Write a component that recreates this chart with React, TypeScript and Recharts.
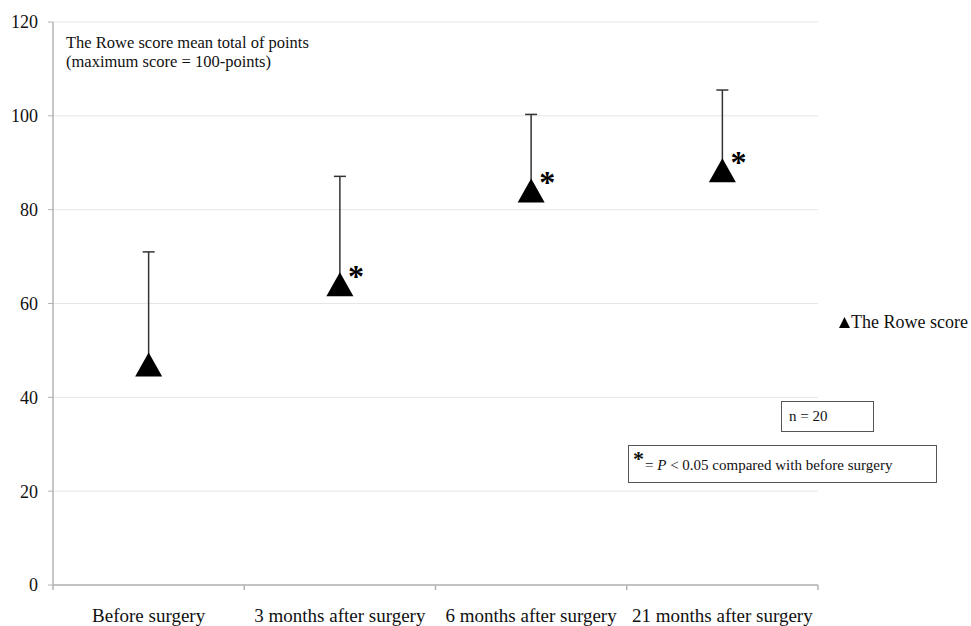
import React from "react";
import {
  ComposedChart,
  Scatter,
  ErrorBar,
  XAxis,
  YAxis,
  CartesianGrid,
} from "recharts";

const categories = [
  "Before surgery",
  "3 months after surgery",
  "6 months after surgery",
  "21 months after surgery",
];
const meanScore = [47.0, 64.1, 84.1, 88.4];
const upperScore = [71.0, 87.1, 100.3, 105.5];
const significant = [false, true, true, true];
const yTicks = [0, 20, 40, 60, 80, 100, 120];

const SERIF = '"Liberation Serif", "Times New Roman", serif';
const AXIS_COLOR = "#b3b3b3";

const rows = categories.map((name, i) => ({
  x: i + 0.5,
  name,
  mean: meanScore[i],
  err: [0, upperScore[i] - meanScore[i]],
  sig: significant[i],
}));

// x ticks: integers are band edges (tick marks), halves are category labels
const xTicks = [0, 0.5, 1, 1.5, 2, 2.5, 3, 3.5, 4];

const XTick = (props: any) => {
  const { x, y, payload } = props;
  const v = payload.value;
  if (Number.isInteger(v)) {
    return <line x1={x} x2={x} y1={y} y2={y + 5} stroke={AXIS_COLOR} strokeWidth={1.5} />;
  }
  return (
    <text x={x} y={y + 37} textAnchor="middle" fontFamily={SERIF} fontSize={19} fill="#111">
      {categories[Math.floor(v)]}
    </text>
  );
};

const Triangle = (props: any) => {
  const { cx, cy, payload } = props;
  return (
    <g>
      <polygon
        points={`${cx},${cy - 12} ${cx - 13.5},${cy + 12} ${cx + 13.5},${cy + 12}`}
        fill="#000"
      />
      {payload.sig && (
        <text
          x={cx + 16}
          y={cy + 3}
          textAnchor="middle"
          fontFamily={SERIF}
          fontWeight="bold"
          fontSize={32}
          fill="#000"
        >
          *
        </text>
      )}
    </g>
  );
};

export default function App() {
  return (
    <div style={{ position: "absolute", left: 0, top: 0, width: 971, height: 626, background: "#fff" }}>
      <ComposedChart
        width={971}
        height={626}
        data={rows}
        margin={{ top: 22, right: 153, bottom: 0, left: 0 }}
      >
        <CartesianGrid horizontal vertical={false} stroke="#e6e6e6" />
        <XAxis
          dataKey="x"
          type="number"
          domain={[0, 4]}
          ticks={xTicks}
          interval={0}
          height={41}
          tick={<XTick />}
          tickLine={false}
          tickSize={0}
          tickMargin={0}
          axisLine={{ stroke: AXIS_COLOR, strokeWidth: 1.5 }}
        />
        <YAxis
          type="number"
          domain={[0, 120]}
          ticks={yTicks}
          width={53}
          tickSize={5}
          tickMargin={10}
          tickLine={{ stroke: AXIS_COLOR }}
          axisLine={{ stroke: AXIS_COLOR, strokeWidth: 1.5 }}
          tick={{ fontFamily: SERIF, fontSize: 18, fill: "#111" }}
        />
        <Scatter
          name="The Rowe score"
          dataKey="mean"
          fill="#000"
          shape={<Triangle />}
          isAnimationActive={false}
        >
          <ErrorBar dataKey="err" direction="y" width={6} stroke="#333" strokeWidth={1.5} />
        </Scatter>
      </ComposedChart>

      {/* legend */}
      <div
        style={{
          position: "absolute",
          left: 839,
          top: 312,
          fontFamily: SERIF,
          fontSize: 18,
          color: "#111",
          whiteSpace: "nowrap",
          display: "flex",
          alignItems: "center",
        }}
      >
        <svg width={11} height={11} style={{ marginRight: 1 }}>
          <polygon points="5.5,0 0,11 11,11" fill="#000" />
        </svg>
        The Rowe score
      </div>

      <div
        style={{
          position: "absolute",
          left: 66,
          top: 33,
          fontFamily: SERIF,
          fontSize: 16.5,
          lineHeight: "19px",
          color: "#111",
        }}
      >
        The Rowe score mean total of points
        <br />
        (maximum score = 100-points)
      </div>

      <div
        style={{
          position: "absolute",
          left: 781,
          top: 401,
          width: 93,
          height: 31,
          border: "1px solid #555",
          boxSizing: "border-box",
          fontFamily: SERIF,
          fontSize: 15,
          lineHeight: "29px",
          paddingLeft: 7,
          color: "#111",
        }}
      >
        n = 20
      </div>

      <div
        style={{
          position: "absolute",
          left: 628,
          top: 445,
          width: 309,
          height: 38,
          border: "1px solid #555",
          boxSizing: "border-box",
          fontFamily: SERIF,
          fontSize: 15,
          color: "#111",
          whiteSpace: "nowrap",
        }}
      >
        <span
          style={{
            position: "absolute",
            left: 4,
            top: 2,
            fontSize: 22,
            lineHeight: "22px",
            fontWeight: "bold",
          }}
        >
          *
        </span>
        <span style={{ position: "absolute", left: 16, top: 11 }}>
          = <i>P</i> &lt; 0.05 compared with before surgery
        </span>
      </div>
    </div>
  );
}
